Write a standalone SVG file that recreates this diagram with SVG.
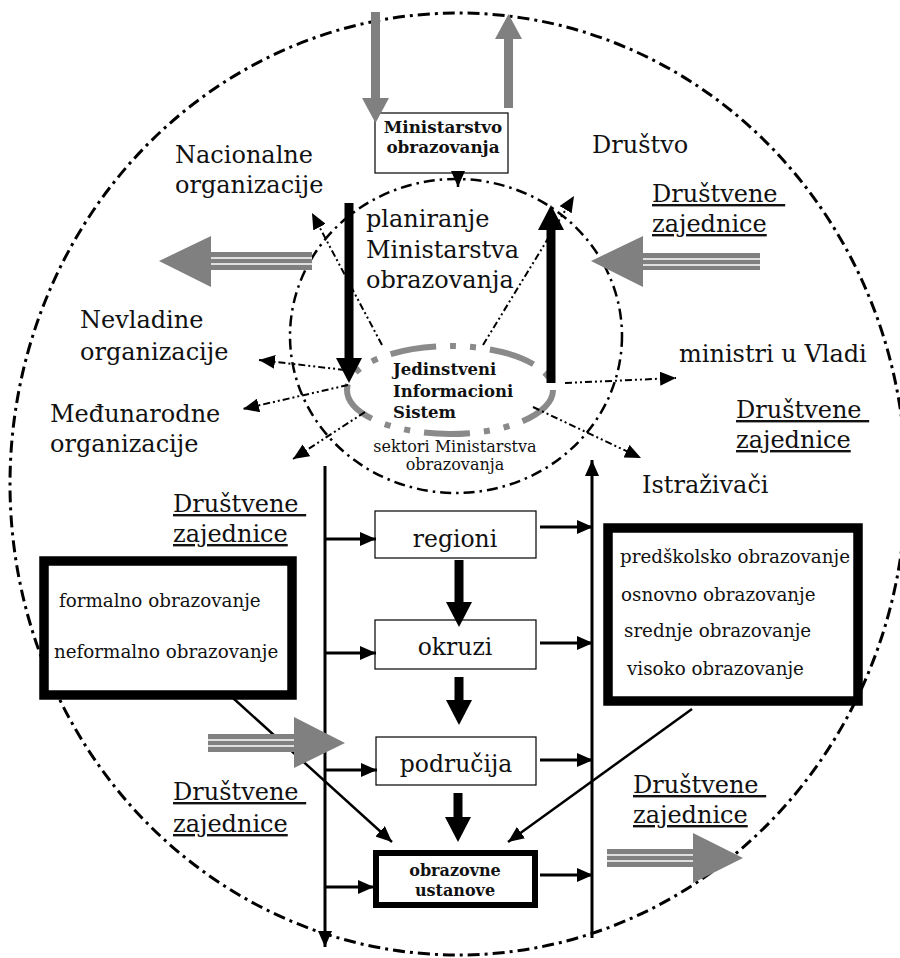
<svg xmlns="http://www.w3.org/2000/svg" width="900" height="958" viewBox="0 0 900 958">
  <style>
    text { font-family: "DejaVu Serif", "Liberation Serif", serif; fill: #111; }
    .lbl { font-size: 24px; }
    .ul { text-decoration: underline; }
    .box-lbl { font-size: 23.5px; text-anchor: middle; }
    .bold { font-weight: bold; }
    .list { font-size: 18.3px; }
    .small { font-size: 16px; }
    .outer { fill: none; stroke: #000; stroke-width: 3; stroke-dasharray: 12 5 3 5; }
    .inner { fill: none; stroke: #000; stroke-width: 2.5; stroke-dasharray: 11 5 2.5 5; }
    .jis { fill: none; stroke: #8a8a8a; stroke-width: 6; stroke-dasharray: 46 14 6 14 6 14; }
    .box { fill: #fff; stroke: #000; stroke-width: 1.2; }
    .thick-box { fill: #fff; stroke: #000; stroke-width: 9.5; }
    .mid-box { fill: #fff; stroke: #000; stroke-width: 6; }
    .link { fill: none; stroke: #000; stroke-width: 3; marker-end: url(#head); }
    .diag { fill: none; stroke: #000; stroke-width: 2.5; marker-end: url(#head); }
    .info { fill: none; stroke: #000; stroke-width: 2; stroke-dasharray: 7 3 2 3 2 3; marker-end: url(#head); }
    .bold-flow { fill: none; stroke: #000; stroke-width: 9; marker-end: url(#headBold); }
    .gray-flow { fill: none; stroke: #808080; stroke-width: 9; marker-end: url(#headGray); }
    .gray { fill: #808080; }
    .gap { stroke: #fff; stroke-width: 1.5; }
  </style>
  <defs>
    <marker id="head" markerUnits="userSpaceOnUse" markerWidth="16" markerHeight="14" refX="16" refY="7" orient="auto">
      <path d="M0,0 L16,7 L0,14 z" fill="#000"/>
    </marker>
    <marker id="headBold" markerUnits="userSpaceOnUse" markerWidth="25" markerHeight="26" refX="1" refY="13" orient="auto">
      <path d="M0,0 L25,13 L0,26 z" fill="#000"/>
    </marker>
    <marker id="headGray" markerUnits="userSpaceOnUse" markerWidth="25" markerHeight="27" refX="1" refY="13.5" orient="auto">
      <path d="M0,0 L25,13.5 L0,27 z" fill="#808080"/>
    </marker>
  </defs>

  <!-- society boundary and ministry planning circle -->
  <g id="society">
    <ellipse class="outer" cx="458" cy="484" rx="448" ry="471"/>
  </g>
  <g id="planning">
    <ellipse class="inner" cx="456" cy="336" rx="166" ry="157"/>
    <text class="lbl" x="366" y="227">planiranje</text>
    <text class="lbl" x="366" y="258">Ministarstva</text>
    <text class="lbl" x="366" y="288">obrazovanja</text>
  </g>

  <!-- unified information system -->
  <g id="jis">
    <ellipse class="jis" cx="450" cy="390" rx="103" ry="44"/>
    <text class="bold" font-size="16.5" x="393" y="375">Jedinstveni</text>
    <text class="bold" font-size="16.5" x="393" y="397">Informacioni</text>
    <text class="bold" font-size="16.5" x="393" y="418">Sistem</text>
    <text class="small" x="455" y="452" text-anchor="middle">sektori Ministarstva</text>
    <text class="small" x="455" y="470" text-anchor="middle">obrazovanja</text>
  </g>

  <g id="ministry">
    <rect class="box" x="375" y="113" width="133" height="60"/>
    <text class="bold" font-size="16.8" x="443" y="133" text-anchor="middle">Ministarstvo</text>
    <text class="bold" font-size="16.8" x="443" y="153" text-anchor="middle">obrazovanja</text>
  </g>

  <!-- outside actors -->
  <g id="national">
    <text class="lbl" x="175" y="163">Nacionalne</text>
    <text class="lbl" x="175" y="193">organizacije</text>
  </g>
  <g id="society-label">
    <text class="lbl" x="592" y="153">Društvo</text>
  </g>
  <g id="communities-top">
    <text class="lbl ul" x="652" y="202">Društvene&#160;</text>
    <text class="lbl ul" x="652" y="232">zajednice</text>
  </g>
  <g id="ngo">
    <text class="lbl" x="80" y="328">Nevladine</text>
    <text class="lbl" x="80" y="360">organizacije</text>
  </g>
  <g id="international">
    <text class="lbl" x="50" y="422">Međunarodne</text>
    <text class="lbl" x="50" y="452">organizacije</text>
  </g>
  <g id="government">
    <text class="lbl" x="679" y="362">ministri u Vladi</text>
  </g>
  <g id="communities-right">
    <text class="lbl ul" x="736" y="418">Društvene&#160;</text>
    <text class="lbl ul" x="736" y="448">zajednice</text>
  </g>
  <g id="researchers">
    <text class="lbl" x="642" y="493">Istraživači</text>
  </g>
  <g id="communities-left">
    <text class="lbl ul" x="173" y="512">Društvene&#160;</text>
    <text class="lbl ul" x="173" y="542">zajednice</text>
  </g>
  <g id="communities-bottom-left">
    <text class="lbl ul" x="173" y="800">Društvene&#160;</text>
    <text class="lbl ul" x="173" y="832">zajednice</text>
  </g>
  <g id="communities-bottom-right">
    <text class="lbl ul" x="633" y="793">Društvene&#160;</text>
    <text class="lbl ul" x="633" y="823">zajednice</text>
  </g>

  <!-- education types -->
  <g id="education-forms">
    <rect class="thick-box" x="44" y="561" width="248" height="134"/>
    <text class="list" x="59" y="607">formalno obrazovanje</text>
    <text class="list" x="54" y="658">neformalno obrazovanje</text>
  </g>
  <g id="education-levels">
    <rect class="thick-box" x="608" y="528" width="250" height="173"/>
    <text class="list" x="620" y="563">predškolsko obrazovanje</text>
    <text class="list" x="621" y="601">osnovno obrazovanje</text>
    <text class="list" x="624" y="637">srednje obrazovanje</text>
    <text class="list" x="627" y="675">visoko obrazovanje</text>
  </g>

  <!-- administrative levels -->
  <g id="regions">
    <rect class="box" x="375" y="511" width="161" height="47"/>
    <text class="box-lbl" x="455" y="547">regioni</text>
  </g>
  <g id="districts">
    <rect class="box" x="375" y="620" width="161" height="49"/>
    <text class="box-lbl" x="455" y="655">okruzi</text>
  </g>
  <g id="areas">
    <rect class="box" x="376" y="737" width="160" height="48"/>
    <text class="box-lbl" x="456" y="772">područija</text>
  </g>
  <g id="institutions">
    <rect class="mid-box" x="376" y="853" width="159" height="52"/>
    <text class="bold" font-size="16" x="455" y="876" text-anchor="middle">obrazovne</text>
    <text class="bold" font-size="16" x="455" y="896" text-anchor="middle">ustanove</text>
  </g>

  <g id="connectors">
    <!-- ministry in/out -->
    <line class="gray-flow" x1="375.5" y1="12" x2="375.5" y2="99"/>
    <line class="gray-flow" x1="508.5" y1="108" x2="508.5" y2="38"/>
    <line x1="458" y1="173" x2="458" y2="187" stroke="#000" stroke-width="2.5" marker-end="url(#head)"/>

    <!-- planning loop -->
    <line class="bold-flow" x1="349" y1="203" x2="349" y2="359"/>
    <line class="bold-flow" x1="551" y1="383" x2="551" y2="229"/>

    <!-- information flows -->
    <line class="info" x1="382" y1="345" x2="312" y2="213"/>
    <line class="info" x1="483" y1="345" x2="574" y2="196"/>
    <line class="info" x1="345" y1="370" x2="259" y2="360"/>
    <line class="info" x1="348" y1="385" x2="243" y2="409"/>
    <line class="info" x1="365" y1="412" x2="293" y2="459"/>
    <line class="info" x1="565" y1="383" x2="676" y2="378"/>
    <line class="info" x1="533" y1="407" x2="641" y2="458"/>

    <!-- vertical trunks -->
    <line class="link" x1="325" y1="466" x2="325" y2="947"/>
    <line class="link" x1="592" y1="938" x2="592" y2="460"/>

    <!-- into the administrative levels -->
    <line class="link" x1="325" y1="539" x2="376" y2="539"/>
    <line class="link" x1="325" y1="653" x2="376" y2="653"/>
    <line class="link" x1="325" y1="770" x2="377" y2="770"/>
    <line class="link" x1="325" y1="887" x2="374" y2="887"/>

    <!-- out of the administrative levels -->
    <line class="link" x1="540" y1="527" x2="593" y2="527"/>
    <line class="link" x1="540" y1="643" x2="593" y2="643"/>
    <line class="link" x1="540" y1="760" x2="593" y2="760"/>
    <line class="link" x1="540" y1="875" x2="593" y2="875"/>

    <!-- hierarchy -->
    <line class="bold-flow" x1="459" y1="560" x2="459" y2="603"/>
    <line class="bold-flow" x1="459" y1="677" x2="459" y2="701"/>
    <line class="bold-flow" x1="458" y1="793" x2="458" y2="818"/>

    <!-- education types to institutions -->
    <line class="diag" x1="233" y1="698" x2="392" y2="842"/>
    <line class="diag" x1="692" y1="709" x2="508" y2="842"/>

    <!-- community exchange arrows -->
    <g id="exchange-left-top">
      <polygon class="gray" points="159,261 211,236 211,252 312,252 312,270 211,270 211,287"/>
      <line class="gap" x1="211" y1="258" x2="312" y2="258"/>
      <line class="gap" x1="211" y1="264" x2="312" y2="264"/>
    </g>
    <g id="exchange-right-top">
      <polygon class="gray" points="591,261 643,236 643,253 760,253 760,270 643,270 643,287"/>
      <line class="gap" x1="643" y1="259" x2="760" y2="259"/>
      <line class="gap" x1="643" y1="265" x2="760" y2="265"/>
    </g>
    <g id="exchange-left-bottom">
      <polygon class="gray" points="345,743 294,717 294,734 208,734 208,752 294,752 294,768"/>
      <line class="gap" x1="208" y1="740" x2="294" y2="740"/>
      <line class="gap" x1="208" y1="746" x2="294" y2="746"/>
    </g>
    <g id="exchange-right-bottom">
      <polygon class="gray" points="743,858 693,833 693,849 607,849 607,867 693,867 693,883"/>
      <line class="gap" x1="607" y1="855" x2="693" y2="855"/>
      <line class="gap" x1="607" y1="861" x2="693" y2="861"/>
    </g>
  </g>
</svg>
